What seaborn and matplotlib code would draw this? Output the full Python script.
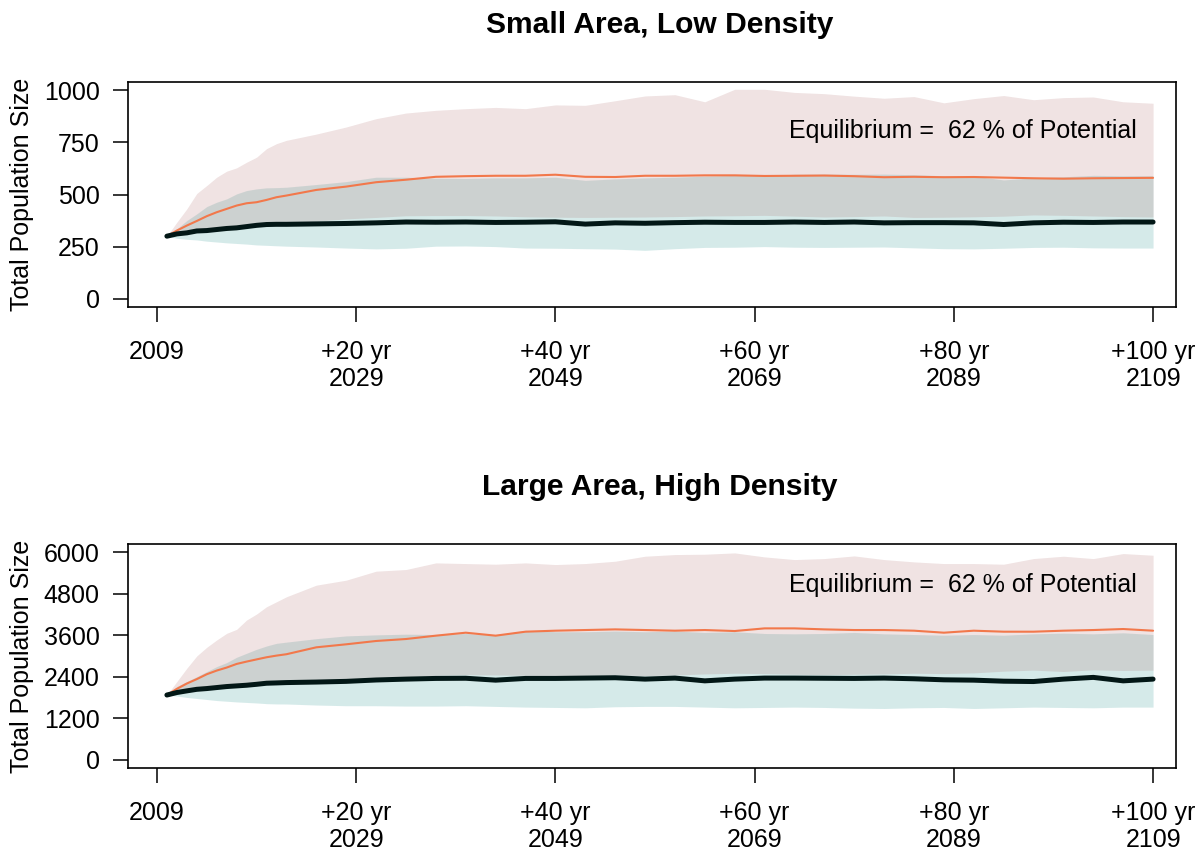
import matplotlib
matplotlib.use("Agg")
import matplotlib.pyplot as plt
import seaborn as sns
import pandas as pd

# ---------------- data ----------------
years = [2010, 2011, 2012, 2013, 2014, 2015, 2016, 2017, 2018, 2019, 2020, 2021, 2022,
         2025, 2028, 2031, 2034, 2037, 2040, 2043, 2046, 2049, 2052, 2055, 2058,
         2061, 2064, 2067, 2070, 2073, 2076, 2079, 2082, 2085, 2088, 2091, 2094,
         2097, 2100, 2103, 2106, 2109]

# Panel 1: Small Area, Low Density
small_median = [300, 311, 316, 325, 327, 332, 337, 340, 346, 352, 356, 357, 357,
                359, 361, 364, 368, 367, 368, 366, 367, 369, 358, 364, 362, 365,
                367, 366, 366, 368, 366, 368, 364, 365, 365, 364, 356, 364, 367,
                366, 368, 368]
small_median_lo = [300, 290, 285, 282, 276, 272, 268, 265, 262, 258, 256, 254, 252,
                   248, 243, 239, 242, 252, 253, 250, 243, 242, 240, 238, 232, 240,
                   246, 247, 250, 247, 246, 247, 248, 244, 240, 239, 242, 246, 247,
                   244, 243, 243]
small_median_hi = [300, 335, 375, 407, 442, 463, 479, 503, 519, 527, 532, 533, 535,
                   548, 562, 583, 583, 578, 577, 580, 580, 583, 568, 575, 580, 583,
                   588, 592, 590, 597, 598, 597, 598, 595, 590, 588, 570, 580, 585,
                   592, 590, 590]
small_potential = [300, 327, 351, 373, 396, 415, 431, 447, 458, 463, 474, 487, 495,
                   522, 538, 559, 571, 585, 588, 590, 590, 595, 585, 584, 590, 590,
                   592, 592, 589, 590, 591, 588, 583, 585, 583, 584, 581, 578, 576,
                   578, 579, 580]
small_potential_lo = [300, 312, 318, 322, 330, 335, 340, 345, 350, 355, 358, 360, 362,
                      372, 383, 390, 398, 399, 399, 397, 393, 391, 390, 391, 392, 394,
                      397, 398, 400, 396, 392, 394, 397, 390, 391, 393, 396, 402, 400,
                      397, 394, 392]
small_potential_hi = [300, 367, 431, 505, 543, 583, 612, 628, 655, 679, 720, 744, 760,
                      790, 824, 864, 891, 904, 912, 918, 912, 930, 928, 950, 973, 979,
                      945, 1005, 1005, 990, 984, 972, 962, 970, 940, 960, 975, 955, 965,
                      968, 945, 938]

# Panel 2: Large Area, High Density
large_median = [1870, 1942, 1990, 2035, 2057, 2086, 2115, 2134, 2153, 2180, 2211, 2220, 2230,
                2245, 2265, 2305, 2330, 2350, 2355, 2300, 2350, 2350, 2360, 2370, 2330,
                2360, 2280, 2330, 2360, 2360, 2355, 2350, 2360, 2340, 2310, 2300, 2270,
                2260, 2330, 2380, 2280, 2330]
large_median_lo = [1870, 1840, 1800, 1770, 1740, 1710, 1690, 1670, 1655, 1640, 1620, 1612, 1610,
                   1580, 1560, 1560, 1550, 1550, 1560, 1540, 1520, 1510, 1500, 1530, 1540,
                   1540, 1520, 1500, 1510, 1520, 1510, 1490, 1480, 1500, 1510, 1480, 1500,
                   1520, 1510, 1500, 1520, 1520]
large_median_hi = [1870, 2115, 2259, 2400, 2548, 2692, 2808, 2962, 3077, 3192, 3288, 3365, 3400,
                   3500, 3580, 3610, 3630, 3620, 3650, 3600, 3740, 3700, 3700, 3720, 3700,
                   3720, 3680, 3700, 3650, 3640, 3650, 3680, 3640, 3620, 3600, 3620, 3600,
                   3640, 3660, 3640, 3670, 3620]
large_potential = [1870, 2048, 2202, 2330, 2471, 2577, 2664, 2769, 2837, 2900, 2962, 3010, 3050,
                   3250, 3337, 3433, 3490, 3587, 3673, 3587, 3702, 3731, 3750, 3769, 3750,
                   3731, 3750, 3721, 3798, 3798, 3769, 3750, 3750, 3731, 3673, 3731, 3702,
                   3702, 3731, 3750, 3779, 3731]
large_potential_lo = [1870, 1945, 1995, 2040, 2065, 2095, 2120, 2145, 2165, 2190, 2220, 2235, 2240,
                      2260, 2290, 2340, 2400, 2440, 2460, 2450, 2440, 2420, 2440, 2450, 2430,
                      2450, 2480, 2500, 2490, 2470, 2460, 2470, 2480, 2500, 2490, 2510, 2560,
                      2590, 2550, 2600, 2580, 2590]
large_potential_hi = [1870, 2260, 2644, 3000, 3250, 3462, 3654, 3769, 4039, 4212, 4423, 4567, 4712,
                      5048, 5192, 5452, 5500, 5692, 5673, 5654, 5692, 5644, 5673, 5740, 5885,
                      5933, 5943, 5981, 5865, 5788, 5817, 5894, 5788, 5721, 5673, 5673, 5654,
                      5817, 5885, 5817, 5962, 5913]

titles = ["Small Area, Low Density", "Large Area, High Density"]
ylabel = "Total Population Size"
note = "Equilibrium =  62 % of Potential"
xtick_pos = [2009, 2029, 2049, 2069, 2089, 2109]
xtick_labels = ["2009", "+20 yr\n2029", "+40 yr\n2049", "+60 yr\n2069",
                "+80 yr\n2089", "+100 yr\n2109"]
yticks_small = [0, 250, 500, 750, 1000]
yticks_large = [0, 1200, 2400, 3600, 4800, 6000]

# ---------------- style ----------------
sns.set_theme(style="white")
plt.rcParams["font.family"] = ["Liberation Sans", "DejaVu Sans"]
plt.rcParams["axes.edgecolor"] = "black"
plt.rcParams["axes.linewidth"] = 1.2

teal_col = (91/255, 175/255, 171/255)
pink_col = (155/255, 68/255, 68/255)
orange_col = "#F2784B"
dark_col = "#021716"

fig = plt.figure(figsize=(11.99, 8.55), dpi=100)
ax1 = fig.add_axes([0.1068, 0.6409, 0.8740, 0.2632])
ax2 = fig.add_axes([0.1068, 0.1018, 0.8740, 0.2620])

panels = [
    (ax1, small_median, small_median_lo, small_median_hi,
     small_potential, small_potential_lo, small_potential_hi,
     yticks_small, (-40, 1040), 807),
    (ax2, large_median, large_median_lo, large_median_hi,
     large_potential, large_potential_lo, large_potential_hi,
     yticks_large, (-240, 6240), 5048),
]

for i, (ax, med, mlo, mhi, pot, plo, phi, yt, ylim, note_y) in enumerate(panels):
    ax.fill_between(years, mlo, mhi, color=teal_col, alpha=0.25, linewidth=0)
    ax.fill_between(years, plo, phi, color=pink_col, alpha=0.15, linewidth=0)
    df = pd.DataFrame({"year": years, "median": med, "potential": pot})
    sns.lineplot(data=df, x="year", y="potential", ax=ax, color=orange_col,
                 linewidth=1.5)
    sns.lineplot(data=df, x="year", y="median", ax=ax, color=dark_col,
                 linewidth=3.6, solid_capstyle="round")
    ax.set_xlim(2006.1, 2111.3)
    ax.set_ylim(*ylim)
    ax.set_xticks(xtick_pos)
    ax.set_xticklabels(xtick_labels)
    ax.set_yticks(yt)
    ax.set_yticklabels([str(v) for v in yt])
    ax.tick_params(axis="both", direction="out", length=10.5, width=1.1,
                   color="black", labelsize=18, labelcolor="black")
    ax.tick_params(axis="x", pad=13)
    ax.tick_params(axis="y", pad=10)
    ax.tick_params(bottom=True, left=True)
    ax.set_xlabel("")
    ax.set_ylabel(ylabel, fontsize=18, color="black")
    ax.yaxis.set_label_coords(-0.0902, 0.5)
    ax.set_title(titles[i], fontsize=21.6, fontweight="bold", color="black",
                 x=0.5076, pad=35)
    ax.text(2107.4, note_y, note, ha="right", va="center", fontsize=18,
            color="black")
    for s in ax.spines.values():
        s.set_visible(True)
        s.set_color("black")
        s.set_linewidth(1.2)

fig.savefig("out.png", dpi=100, facecolor="white")
